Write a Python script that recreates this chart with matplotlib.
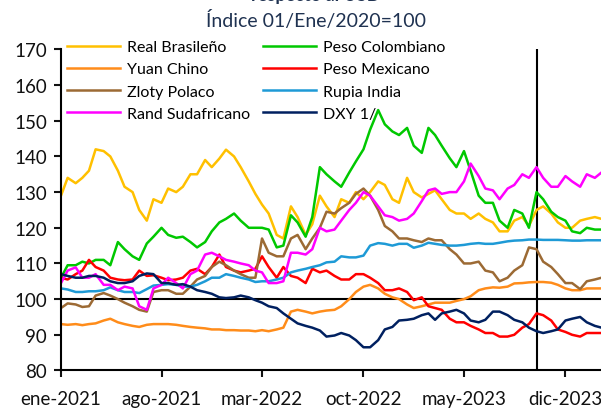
import numpy as np
import pandas as pd
import matplotlib
matplotlib.use('Agg')
import matplotlib.pyplot as plt

plt.rcParams['font.family'] = ['Lato', 'DejaVu Sans']

# fechas quincenales (1 y 15 de cada mes)
fechas = pd.date_range('2021-01-01', '2024-02-15', freq='SMS')

real_brasileno = [129, 134, 132.5, 134, 136, 142, 141.5, 140, 136, 131.5,
                  130, 125, 122, 128, 127, 131, 130, 131.5, 135, 135,
                  139, 137, 139.4, 141.9, 140, 137, 133, 129.5, 126.5, 124,
                  118, 117, 126, 123, 118, 121, 129, 126, 123, 128,
                  127, 130, 128, 130, 133, 132, 128, 127, 134, 130,
                  128.5, 129.5, 130.5, 128, 125, 124, 124, 122.5, 124, 122.5,
                  121.5, 119, 119, 122, 123, 120.5, 125, 126, 124, 121.5,
                  120, 120, 122, 122.5, 123, 122.5]
peso_colombiano = [106, 109.5, 109.5, 110.5, 110, 111, 111, 109.5, 116, 114,
                   112, 111, 115.6, 117.5, 120, 118, 117.2, 117.5, 116, 114.5,
                   116, 119, 121.5, 122.5, 124, 122, 120, 120, 120, 119.5,
                   114.5, 115, 123.5, 121.5, 117.5, 123, 137, 135, 133, 131.5,
                   135.5, 138.6, 142, 147.5, 153, 149, 147, 146, 148, 143,
                   141, 148, 146, 143, 139.5, 137, 141.5, 136, 129, 127,
                   127, 122, 120, 125, 124, 120, 130, 128, 124.5, 123,
                   122, 119, 118.5, 120, 119.5, 119.5]
yuan_chino = [93, 92.8, 93, 92.7, 93, 93.2, 94, 94.5, 93.5, 93,
              92.5, 92.2, 92.8, 93, 93, 93, 92.8, 92.5, 92.2, 92,
              91.8, 91.5, 91.5, 91.3, 91.3, 91.2, 91.2, 91, 91.3, 91,
              91.5, 92, 96.5, 97, 96.5, 96, 96.5, 96.8, 97, 98,
              100, 102, 103.5, 104, 103, 101.5, 100.5, 100, 98.5, 97.5,
              98, 98.5, 99, 99, 99, 99.5, 100, 100.8, 102.5, 103,
              103.3, 103.2, 103.5, 104.4, 104.5, 104.7, 104.8, 104.8, 104.6, 104,
              103, 102.5, 102.5, 103, 103, 103]
peso_mexicano = [106, 105.5, 107, 108, 111, 109, 108, 106, 105.5, 105.3,
                 105.5, 108, 106.5, 106.7, 106, 105.3, 105.5, 106, 108, 108.5,
                 107, 109, 112.5, 109, 108, 107.5, 108, 108.5, 112, 109,
                 106, 109, 106.5, 106, 104.5, 108.5, 107.5, 108, 106.5, 105.5,
                 105.5, 107, 107, 106, 104.5, 102.5, 102.5, 103, 102, 99.7,
                 100.5, 98, 97.5, 97, 94.5, 93.5, 93.5, 92.5, 91.5, 90.5,
                 90.5, 89.5, 89.5, 90, 92, 93, 96, 95.5, 94, 91.5,
                 90.8, 90, 89.5, 90.5, 90.5, 90.5]
zloty_polaco = [97.5, 98.8, 98.5, 97.8, 98, 101, 101.7, 101, 100, 99,
                98, 97, 96.5, 102, 102.5, 102.5, 101.5, 101.5, 103.5, 105.5,
                106.5, 109, 110.5, 109.5, 108, 107, 106, 106, 117, 113,
                112, 112, 117, 118, 114, 117, 120, 124.5, 124, 125.5,
                127, 129.5, 131, 129, 125, 120.5, 119, 117, 117, 116.5,
                116, 117, 116.5, 116.5, 114, 112.5, 110, 110, 110.5, 108,
                107.5, 105, 106, 108, 109.5, 114.5, 114, 110.5, 109, 107,
                104.5, 104.5, 102.8, 105, 105.5, 106]
rupia_india = [103, 102.7, 102, 102, 102.2, 102.2, 102.5, 103.3, 102.5, 102,
               102, 101.7, 102.8, 103.8, 104, 104.2, 104, 103.5, 103.5, 104,
               105, 106, 106, 107, 106.5, 106, 105.5, 104.8, 105, 105,
               105.5, 106, 107.5, 108, 108.5, 109, 109.5, 110.3, 110.5, 112,
               111.7, 111.7, 112.2, 115, 115.7, 115.5, 115, 115.5, 115.5, 114.4,
               115, 115.8, 115.5, 115.2, 115, 115, 115.2, 115.5, 115.7, 115.5,
               115.5, 115.8, 116.2, 116.4, 116.5, 116.7, 116.7, 116.6, 116.6, 116.6,
               116.5, 116.4, 116.4, 116.5, 116.5, 116.5]
rand_sudafricano = [104.5, 108, 108.9, 106, 106, 107, 104, 104, 102.5, 103.5,
                    103, 98, 97, 103, 104, 106, 104.5, 103, 107, 108,
                    112.5, 113, 112, 111, 110.5, 110, 109.5, 108, 107.5, 104.5,
                    104.5, 105, 113, 113, 112.5, 114, 120, 119, 119.5, 122,
                    125, 127, 130, 129, 126, 123.5, 123, 122, 122.5, 124,
                    127.5, 130.5, 131, 129.5, 130, 130, 133, 138, 134.5, 131,
                    130.5, 128, 131, 132, 135, 134, 137, 134, 131.5, 131.5,
                    134.5, 133, 131.5, 135, 134, 135.5]
dxy = [107, 106.5, 106, 106, 106.5, 106.5, 106, 105, 104.5, 104.5,
       105, 106.5, 107.2, 107, 104.5, 104.5, 104, 104.2, 103.5, 102.5,
       102, 101.5, 100.5, 100.3, 100.5, 101, 100.5, 99.7, 99, 98,
       97.5, 96, 94.5, 93.2, 92.5, 92, 91.2, 89.5, 89.8, 90.5,
       89.8, 88.5, 86.5, 86.5, 88.5, 91.5, 92.2, 94, 94.2, 94.5,
       95.5, 96, 94.2, 96, 96.5, 97, 96, 94, 93.5, 94.2,
       96.5, 96.5, 95.5, 94.2, 93.5, 92, 91, 90.5, 91, 91.5,
       94, 94.5, 95, 93.5, 92.5, 92]

series = [
    ('Real Brasileño', real_brasileno, '#FFC000'),
    ('Peso Colombiano', peso_colombiano, '#00C800'),
    ('Yuan Chino', yuan_chino, '#FF8C1A'),
    ('Peso Mexicano', peso_mexicano, '#FF0000'),
    ('Zloty Polaco', zloty_polaco, '#9C6A34'),
    ('Rupia India', rupia_india, '#1E9AD6'),
    ('Rand Sudafricano', rand_sudafricano, '#FF00FF'),
    ('DXY 1/', dxy, '#002060'),
]

ticks_x = pd.to_datetime(['2021-01-01', '2021-08-01', '2022-03-01',
                          '2022-10-01', '2023-05-01', '2023-12-01'])
labels_x = ['ene-2021', 'ago-2021', 'mar-2022', 'oct-2022', 'may-2023', 'dic-2023']

fig = plt.figure(figsize=(6.01, 4.10), dpi=100)
ax = fig.add_axes([0.1015, 0.094, 0.8985, 0.783])

lineas = {}
for nombre, valores, color in series:
    l, = ax.plot(fechas, valores, color=color, lw=1.8, label=nombre)
    lineas[nombre] = l

ax.axhline(100, color='black', lw=1.5, zorder=1)
ax.axvline(pd.Timestamp('2023-10-01'), color='black', lw=1.5, zorder=1)

ax.set_xlim(pd.Timestamp('2021-01-01'), pd.Timestamp('2024-02-14'))
ax.set_ylim(80, 170)
ax.set_yticks(np.arange(80, 171, 10))
ax.set_xticks(ticks_x)
ax.set_xticklabels(labels_x)

for s in ['top', 'right']:
    ax.spines[s].set_visible(False)
for s in ['left', 'bottom']:
    ax.spines[s].set_linewidth(1.5)
ax.tick_params(axis='both', labelsize=13.5, colors='#111111', width=1.5, length=5)
ax.tick_params(axis='y', pad=5)
ax.tick_params(axis='x', pad=9)

orden = ['Real Brasileño', 'Yuan Chino', 'Zloty Polaco', 'Rand Sudafricano',
         'Peso Colombiano', 'Peso Mexicano', 'Rupia India', 'DXY 1/']
fig.legend([lineas[n] for n in orden], orden, ncol=2, frameon=False,
           loc='upper left', bbox_to_anchor=(67 / 601, 1 - 41 / 410),
           fontsize=11.5, handlelength=3.3, handletextpad=0.45,
           columnspacing=0.8, labelspacing=0.5, borderpad=0, borderaxespad=0)

fig.text(0.525, 1 - 20 / 410, 'Índice 01/Ene/2020=100', ha='center', va='center',
         fontsize=14, color='#1F3251')
# titulo cortado en el borde superior, como en la imagen original
fig.text(0.525, 1 - 1 / 410, 'respecto al USD', ha='center', va='baseline',
         fontsize=13, fontweight='bold', color='#1F3251')

fig.savefig('out.png', dpi=100)
